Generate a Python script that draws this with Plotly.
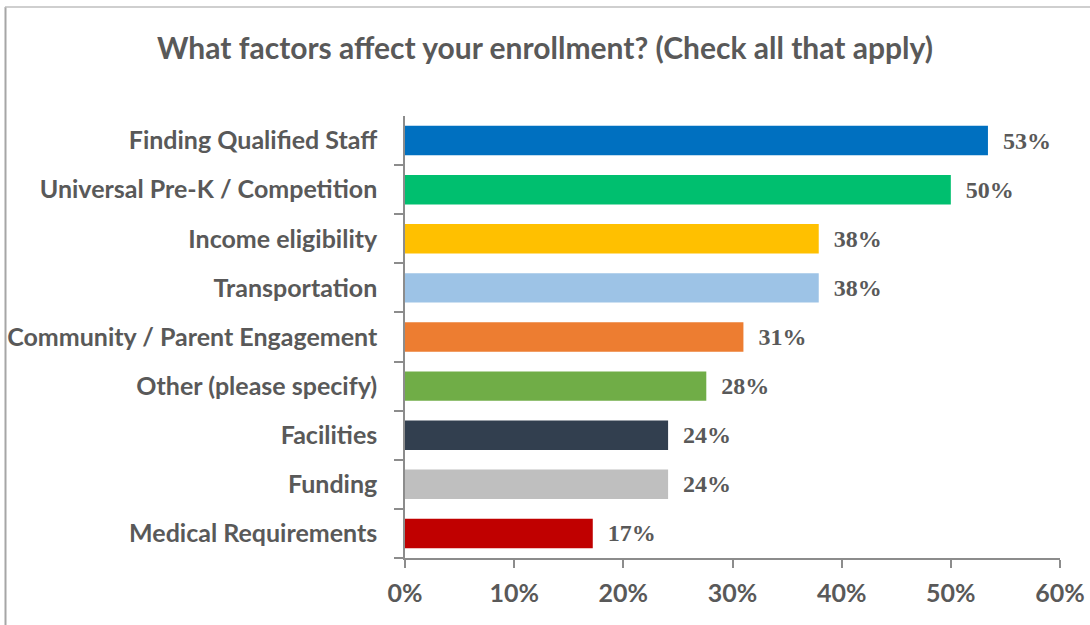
import plotly.graph_objects as go

# Survey responses: share of respondents selecting each factor
categories = [
    "Finding Qualified Staff",
    "Universal Pre-K / Competition",
    "Income eligibility",
    "Transportation",
    "Community / Parent Engagement",
    "Other (please specify)",
    "Facilities",
    "Funding",
    "Medical Requirements",
]
shares = [0.534, 0.500, 0.379, 0.379, 0.310, 0.276, 0.241, 0.241, 0.172]
bar_colors = [
    "#0070C0", "#00BF6F", "#FFC000", "#9DC3E6", "#ED7D31",
    "#70AD47", "#323F4F", "#BFBFBF", "#C00000",
]
x_ticks = [0, 0.1, 0.2, 0.3, 0.4, 0.5, 0.6]
x_tick_labels = ["0%", "10%", "20%", "30%", "40%", "50%", "60%"]

W, H = 1090, 625
L, R, T, B = 405, 30, 116, 67
TEXT = "#595959"
AXIS = "#8C8C8C"

fig = go.Figure(
    go.Bar(
        x=shares,
        y=categories,
        orientation="h",
        marker=dict(color=bar_colors, line=dict(width=0)),
        texttemplate="\u00a0\u00a0<b>%{x:.0%}</b>",
        textposition="outside",
        constraintext="none",
        textfont=dict(family="Liberation Serif", size=24, color=TEXT),
        cliponaxis=False,
        hoverinfo="skip",
    )
)

# Chart frame (left and top edges)
pw, ph = W - L - R, H - T - B
def px_x(v):
    return (v - L) / pw
def px_y(v):
    return (H - B - v) / ph

fig.add_shape(type="line", xref="paper", yref="paper",
              x0=px_x(5.5), x1=px_x(5.5), y0=px_y(7), y1=px_y(640),
              line=dict(color="#A6A6A6", width=2))
fig.add_shape(type="line", xref="paper", yref="paper",
              x0=px_x(5), x1=px_x(1095), y0=px_y(7), y1=px_y(7),
              line=dict(color="#BFBFBF", width=1.5))

fig.update_layout(
    width=W,
    height=H,
    margin=dict(l=L, r=R, t=T, b=B, autoexpand=False),
    paper_bgcolor="white",
    plot_bgcolor="white",
    showlegend=False,
    bargap=0.4,
    title=dict(
        text="<b>What factors affect your enrollment? (Check all that apply)</b>",
        x=0.5, xref="container", xanchor="center",
        y=1 - 48 / H, yref="container", yanchor="middle",
        font=dict(family="Lato", size=30, color=TEXT),
    ),
    font=dict(family="Lato", color=TEXT),
)

fig.update_xaxes(
    range=[0, 0.6],
    tickvals=x_ticks,
    ticktext=[f"<b>{t}</b>" for t in x_tick_labels],
    tickfont=dict(family="Lato", size=25, color=TEXT),
    showgrid=False,
    zeroline=False,
    showline=True,
    linecolor=AXIS,
    linewidth=1.5,
    ticks="outside",
    ticklen=8,
    tickcolor=AXIS,
    tickwidth=1.5,
    ticklabelstandoff=4,
)

fig.update_yaxes(
    categoryorder="array",
    categoryarray=categories[::-1],
    tickvals=categories,
    ticktext=[f"<b>{c}</b>" for c in categories],
    tickfont=dict(family="Lato", size=25, color=TEXT),
    tickson="boundaries",
    showgrid=False,
    zeroline=False,
    showline=True,
    linecolor=AXIS,
    linewidth=1.5,
    ticks="outside",
    ticklen=9,
    tickcolor=AXIS,
    tickwidth=1.5,
    ticklabelstandoff=21,
)

fig.write_html("out.html")
